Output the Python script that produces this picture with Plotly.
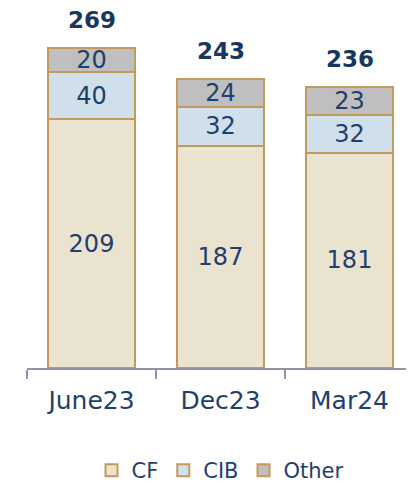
import plotly.graph_objects as go

periods = ["June23", "Dec23", "Mar24"]
cf = [209, 187, 181]
cib = [40, 32, 32]
other = [20, 24, 23]
totals = [269, 243, 236]

NAVY = "#1F3F6E"
BORDER = "#C39A5C"
FONT = "DejaVu Sans"
SERIES = [("CF", cf, "#EAE3D0"), ("CIB", cib, "#CFE0EB"), ("Other", other, "#BFBFBF")]

fig = go.Figure()
for name, vals, color in SERIES:
    fig.add_trace(go.Bar(
        x=periods, y=vals, name=name, text=vals, textposition="inside",
        insidetextanchor="middle", constraintext="none", textangle=0,
        textfont=dict(size=24, color=NAVY, family=FONT),
        marker=dict(color=color, line=dict(color=BORDER, width=2)),
        width=0.67, hoverinfo="skip",
    ))

for p, t in zip(periods, totals):
    fig.add_annotation(x=p, y=t, text=f"<b>{t}</b>", showarrow=False, yanchor="bottom",
                       yshift=13, font=dict(size=23, color="#17375E", family=FONT))

# page body adds an 8px offset, so the figure is slightly smaller than the window
fig.update_layout(
    width=406, height=478, barmode="stack", template="plotly_white",
    plot_bgcolor="white", paper_bgcolor="white",
    margin=dict(l=19, r=0, t=0, b=118, autoexpand=False),
    font=dict(family=FONT, color=NAVY),
    showlegend=True,
    legend=dict(orientation="h", x=0.5, xanchor="center", y=-0.285, yanchor="middle",
                font=dict(size=21, color=NAVY), traceorder="normal", itemwidth=30),
)
fig.update_xaxes(showgrid=False, showline=True, linecolor="#8E95A8", linewidth=2,
                 ticks="outside", tickson="boundaries", ticklen=9, tickcolor="#8E95A8",
                 tickwidth=2, tickfont=dict(size=25, color=NAVY), ticklabelstandoff=9,
                 range=[-0.5, 2.5])
fig.update_yaxes(visible=False, range=[0, 302.6], showgrid=False)

fig.write_html("out.html")
